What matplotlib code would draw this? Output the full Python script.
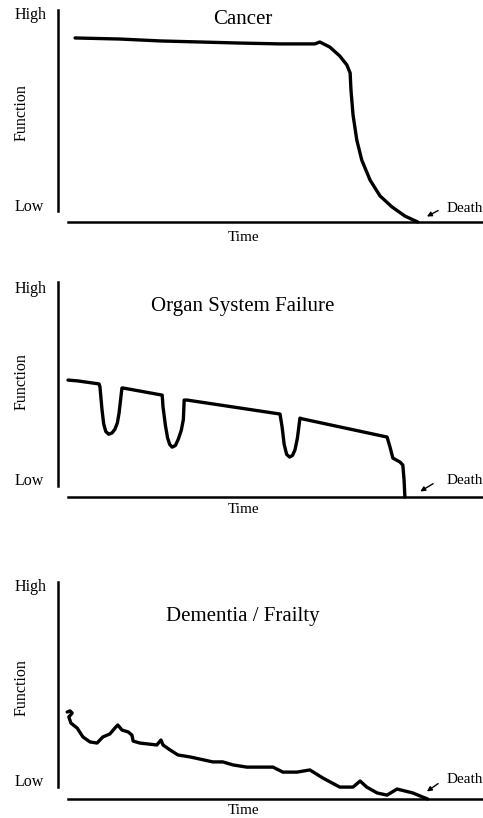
import matplotlib.pyplot as plt

plt.rcParams['font.family'] = ['Liberation Serif', 'DejaVu Serif']

# Trajectories: time (0-100) vs function (0 = Low, 100 = High)
cancer_t = [1.7, 12.5, 22.2, 31.8, 41.4, 51.1, 59.5, 60.7, 63.1, 65.5, 67.2, 68.0,
            68.2, 68.7, 69.6, 70.8, 72.8, 75.2, 78.1, 81.2, 84.3]
cancer_f = [86.8, 86.3, 85.4, 84.9, 84.4, 84.0, 84.0, 84.9, 82.5, 78.3, 74.1, 70.3,
            62.3, 50.5, 38.7, 29.2, 19.8, 12.3, 7.1, 2.8, 0.0]

organ_t = [0.0, 2.4, 7.5, 7.7, 8.2, 8.6, 9.1, 9.8, 10.6, 11.3, 11.9, 12.3, 13.0, 13.3,
           22.7, 22.9, 23.5, 24.0, 24.5, 25.1, 25.9, 26.6, 27.3, 27.8, 28.0, 28.7,
           51.1, 51.6, 52.1, 52.7, 53.4, 54.1, 54.7, 55.3, 55.9, 56.6,
           76.9, 77.6, 78.3, 80.0, 80.7, 81.0, 81.2]
organ_f = [54.4, 54.0, 52.6, 51.2, 40.5, 34.0, 30.5, 29.2, 29.8, 31.5, 34.5, 39.0, 50.7, 50.7,
           47.4, 41.9, 33.0, 27.5, 24.5, 23.2, 24.0, 27.0, 31.0, 36.0, 45.1, 45.1,
           38.6, 32.6, 24.5, 19.8, 18.6, 19.3, 21.9, 27.5, 36.7, 36.3,
           27.9, 23.3, 18.1, 16.3, 14.9, 7.9, 0.0]

frail_t = [-0.2, 0.5, 1.0, 0.2, 0.7, 2.2, 3.6, 5.3, 7.0, 8.4, 10.1, 11.3, 12.0,
           13.0, 14.5, 15.4, 15.7, 17.3, 21.4, 22.4, 22.9, 24.6, 26.5, 29.4,
           31.8, 34.9, 37.3, 39.8, 43.1, 48.0, 49.4, 51.8, 55.2, 58.3, 61.4,
           65.5, 68.7, 70.4, 72.0, 74.5, 76.9, 79.3, 81.2, 83.1, 85.5, 86.7]
frail_f = [40.1, 40.6, 39.6, 37.8, 35.0, 32.7, 28.6, 26.3, 25.8, 28.6, 30.0, 32.7, 34.1,
           31.8, 30.9, 29.5, 26.7, 25.8, 24.9, 27.2, 24.9, 22.6, 20.3, 19.4,
           18.4, 17.1, 17.1, 15.7, 14.7, 14.7, 14.7, 12.4, 12.4, 13.4, 9.7,
           5.5, 5.5, 8.3, 5.5, 2.8, 1.8, 4.6, 3.7, 2.8, 0.9, 0.0]

titles = ['Cancer', 'Organ System Failure', 'Dementia / Frailty']

fig = plt.figure(figsize=(4.83, 8.18), dpi=100)

# axes placement (left, bottom, width, height) in figure fractions
boxes = [(0.1408, 0.7286, 0.859, 0.2592),
         (0.1408, 0.3924, 0.859, 0.2628),
         (0.1408, 0.0232, 0.859, 0.2653)]
vbottom = [5.2, 5.1, 5.5]
title_y = [95.3, 88.4, 83.9]
time_y = [-7.5, -6.0, -5.1]
high_y = [97.6, 96.7, 97.7]
low_y = [7.1, 7.4, 7.8]
func_y = [51.4, 53.5, 51.2]
death_y = [6.6, 7.9, 8.8]
arrows = [((89.2, 5.4), (86.5, 2.6)),
          ((88.0, 6.2), (84.9, 2.6)),
          ((89.2, 7.1), (86.5, 3.5))]

series = [(cancer_t, cancer_f), (organ_t, organ_f), (frail_t, frail_f)]

for i, (t, f) in enumerate(series):
    ax = fig.add_axes(boxes[i])
    ax.plot(t, f, color='black', lw=2.4, solid_joinstyle='round', solid_capstyle='round',
            clip_on=False)
    ax.set_xlim(0, 100)
    ax.set_ylim(0, 100)

    # axis lines like the hand-drawn figure
    for s in ['top', 'right']:
        ax.spines[s].set_visible(False)
    ax.spines['left'].set_position(('outward', 7))
    ax.spines['left'].set_bounds(vbottom[i], 100)
    ax.spines['left'].set_linewidth(1.8)
    ax.spines['bottom'].set_linewidth(1.8)
    ax.set_xticks([])
    ax.set_yticks([])

    ax.text(42.2, title_y[i], titles[i], fontsize=15, ha='center', va='center')
    ax.text(42.2, time_y[i], 'Time', fontsize=11, ha='center', va='center', clip_on=False)
    ax.text(-8.9, high_y[i], 'High', fontsize=11.5, ha='center', va='center', clip_on=False)
    ax.text(-9.4, low_y[i], 'Low', fontsize=11.5, ha='center', va='center', clip_on=False)
    ax.text(-11.1, func_y[i], 'Function', fontsize=11.5, ha='center', va='center',
            rotation=90, clip_on=False)
    ax.text(91.3, death_y[i], 'Death', fontsize=11, ha='left', va='center', clip_on=False)
    tail, head = arrows[i]
    ax.annotate('', xy=head, xytext=tail,
                arrowprops=dict(arrowstyle='-|>', color='black', lw=1.0,
                                mutation_scale=7, shrinkA=0, shrinkB=0))

fig.savefig('out.png', dpi=100)
